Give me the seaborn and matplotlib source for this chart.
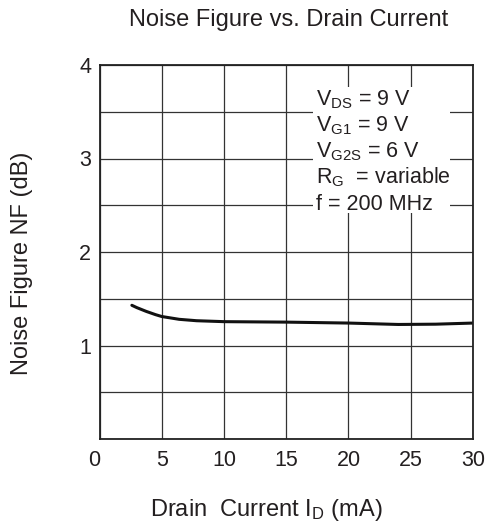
import matplotlib
matplotlib.use("Agg")
import matplotlib.pyplot as plt
import numpy as np
import pandas as pd
import seaborn as sns
from matplotlib.patches import Rectangle
from matplotlib.transforms import ScaledTranslation

# ---- data ----
drain_current_ma = [2.6, 3.0, 3.75, 4.5, 5.0, 6.4, 7.8, 10.0, 15.0, 20.0, 24.0, 27.0, 30.0]
noise_figure_db = [1.43, 1.405, 1.365, 1.33, 1.31, 1.28, 1.265, 1.255, 1.25, 1.24, 1.225, 1.228, 1.24]
x_ticks = [0, 5, 10, 15, 20, 25, 30]
x_tick_labels = ["0", "5", "10", "15", "20", "25", "30"]
y_ticks = [0, 1, 2, 3, 4]
y_tick_labels = ["", "1", "2", "3", "4"]
y_minor_ticks = [0.5, 1.5, 2.5, 3.5]
conditions = [
    r"V$_{\mathregular{DS}}$ = 9 V",
    r"V$_{\mathregular{G1}}$ = 9 V",
    r"V$_{\mathregular{G2S}}$ = 6 V",
    r"R$_{\mathregular{G}}$  = variable",
    r"f = 200 MHz",
]
title = "Noise Figure vs. Drain Current"
x_label = r"Drain  Current I$_{\mathregular{D}}$ (mA)"
y_label = "Noise Figure NF (dB)"

df = pd.DataFrame({"current": drain_current_ma, "nf": noise_figure_db})

sns.set_style("white")
plt.rcParams["font.family"] = ["Liberation Sans", "DejaVu Sans"]
plt.rcParams["mathtext.default"] = "regular"

W, H = 487, 528
fig = plt.figure(figsize=(W / 100, H / 100), dpi=100)
L, R, T, B = 99.5, 473, 65, 439
ax = fig.add_axes([L / W, 1 - B / H, (R - L) / W, (B - T) / H])

txt_color = "#231f20"
fs = 15.5
fs_lab = 17

sns.lineplot(data=df, x="current", y="nf", ax=ax, color="#111111", linewidth=2.2, zorder=2)

ax.set_xlim(0, 30)
ax.set_ylim(0, 4)
ax.set_xticks(x_ticks)
ax.set_xticklabels(x_tick_labels)
ax.set_yticks(y_ticks)
ax.set_yticklabels(y_tick_labels)
ax.set_yticks(y_minor_ticks, minor=True)
ax.tick_params(axis="both", which="both", length=0, labelsize=fs, colors=txt_color)
ax.tick_params(axis="x", pad=8)
ax.tick_params(axis="y", pad=6)
ax.grid(True, which="both", color="#333333", linewidth=0.9)
ax.set_axisbelow(True)
for s in ax.spines.values():
    s.set_color("#222222")
    s.set_linewidth(1.3)
ax.set_xlabel("")
ax.set_ylabel("")

# shift the shared "0" label slightly left
lab0 = ax.get_xticklabels()[0]
lab0.set_transform(lab0.get_transform() + ScaledTranslation(-5.5 / 100, 0, fig.dpi_scale_trans))

def fx(px):
    return (px - L) / (R - L)

def fy(py):
    return (B - py) / (B - T)

# white box behind condition text
ax.add_patch(Rectangle((fx(313), fy(213)), fx(450) - fx(313), fy(87) - fy(213),
                       transform=ax.transAxes, facecolor="white", edgecolor="none", zorder=2.5))
baselines = [105, 131.5, 157.5, 183.5, 209.5]
for t, yb in zip(conditions, baselines):
    ax.text(fx(316.5), fy(yb), t, transform=ax.transAxes, ha="left", va="baseline",
            fontsize=fs, color=txt_color, zorder=3)

fig.text(289 / W, 1 - 26 / H, title, ha="center", va="baseline", fontsize=fs_lab, color=txt_color)
fig.text(150 / W, 1 - 516 / H, x_label, ha="left", va="baseline", fontsize=fs_lab, color=txt_color)
fig.text(28.3 / W, 1 - 263 / H, y_label, ha="center", va="baseline", rotation=90,
         rotation_mode="anchor", fontsize=fs_lab, color=txt_color)

fig.savefig("out.png", dpi=100)
